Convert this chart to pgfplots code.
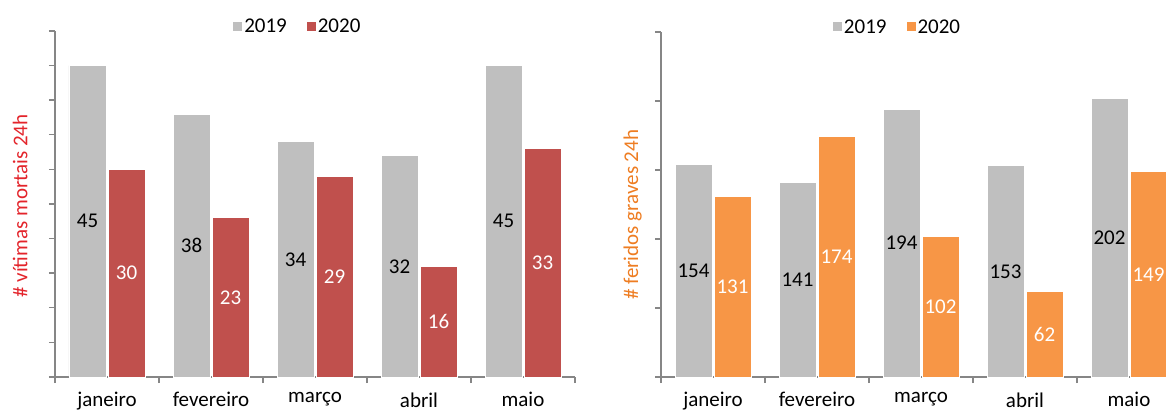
\documentclass[border=0pt]{standalone}
\usepackage{fontspec}
\setmainfont{Carlito}
\usepackage{pgfplots}
\pgfplotsset{compat=1.18}

\definecolor{cgray}{HTML}{BFBFBF}
\definecolor{cred}{HTML}{C0504D}
\definecolor{corange}{HTML}{F79646}
\definecolor{labred}{HTML}{E3242B}
\definecolor{laborange}{HTML}{EE7D22}
\definecolor{axgray}{HTML}{868686}

\pgfplotsset{
  panel/.style={
    /pgf/number format/assume math mode=true,
    font=\fontsize{21}{25}\selectfont,
    x=104pt,
    xmin=-0.5,
    ymin=0,
    axis lines*=left,
    axis line style={axgray, line width=1.4pt},
    ybar=2pt,
    bar width=37pt,
    xtick={0,1,2,3,4},
    xticklabels={janeiro, fevereiro, março, abril, maio},
    major x tick style={draw=none},
    minor xtick={-0.5,0.5,1.5,2.5,3.5,4.5},
    minor x tick style={axgray, line width=1.4pt},
    minor tick length=6pt,
    tick align=outside,
    ytick style={axgray, line width=1.4pt},
    major tick length=6pt,
    yticklabels={},
    xticklabel style={yshift=-6pt},
    visualization depends on={rawy \as \rawy},
    nodes near coords,
    legend columns=2,
    legend style={draw=none, fill=none, anchor=center,
      /tikz/every even column/.append style={column sep=18pt}},
    legend image code/.code={\fill[#1, draw=none] (0pt,-4.5pt) rectangle (9pt,4.5pt);},
  },
}

\begin{document}
\begin{tikzpicture}
\begin{axis}[
  panel,
  at={(0pt,0pt)}, anchor=south west,
  y=6.92pt, xmax=4.5, ymax=50,
  ytick={0,5,...,50},
  every node near coord/.append style={anchor=center, yshift=-\rawy*3.46pt},
  ylabel={\# vítimas mortais 24h},
  every axis y label/.style={at={(axis description cs:-0.067,0.494)}, rotate=90, anchor=center, text=labred},
  legend style={at={(axis description cs:0.467,1.014)}},
]
\addplot[fill=cgray, draw=white, line width=0.8pt, nodes near coords style={text=black}]
  coordinates {(0,45) (1,38) (2,34) (3,32) (4,45)};
\addplot[fill=cred, draw=white, line width=0.8pt, nodes near coords style={text=white}]
  coordinates {(0,30) (1,23) (2,29) (3,16) (4,33)};
\legend{2019, 2020}
\end{axis}

\begin{axis}[
  panel,
  at={(606pt,0pt)}, anchor=south west,
  y=1.38pt, xmax=4.37, ymax=250,
  ytick={0,50,...,250},
  every node near coord/.append style={anchor=center, yshift=-\rawy*0.69pt},
  ylabel={\# feridos graves 24h},
  every axis y label/.style={at={(axis description cs:-0.056,0.47)}, rotate=90, anchor=center, text=laborange},
  legend style={at={(axis description cs:0.467,1.0145)}},
]
\addplot[fill=cgray, draw=white, line width=0.8pt, nodes near coords style={text=black}]
  coordinates {(0,154) (1,141) (2,194) (3,153) (4,202)};
\addplot[fill=corange, draw=white, line width=0.8pt, nodes near coords style={text=white}]
  coordinates {(0,131) (1,174) (2,102) (3,62) (4,149)};
\legend{2019, 2020}
\end{axis}

\pgfresetboundingbox
\path (-55pt,-35pt) rectangle (1111pt,377pt);
\end{tikzpicture}
\end{document}
